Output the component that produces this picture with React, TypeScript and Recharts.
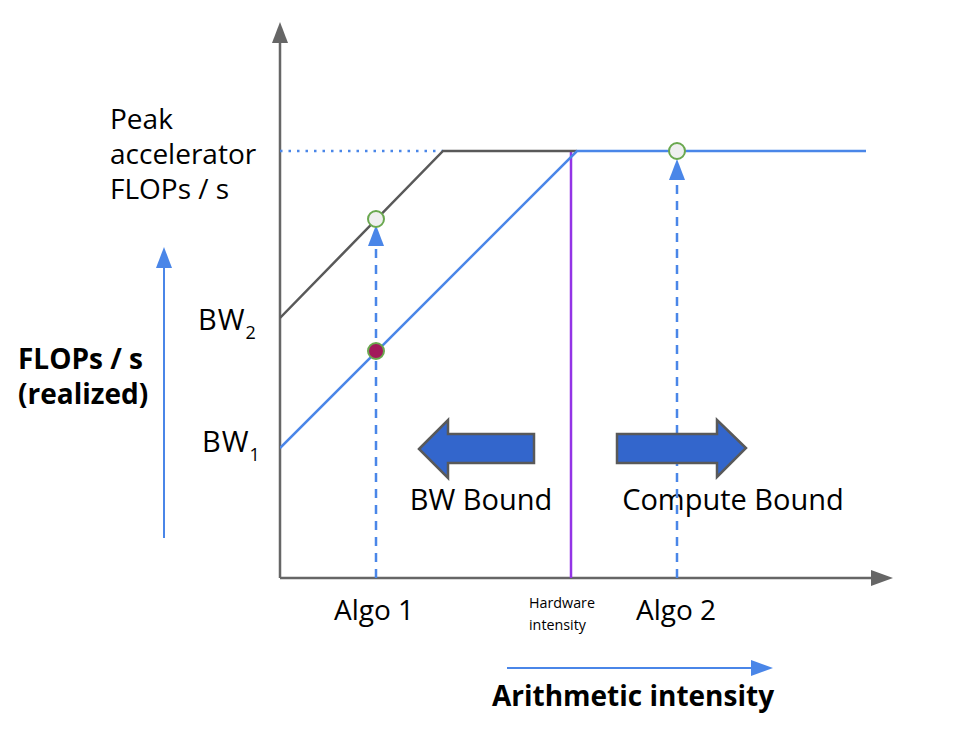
import React from 'react';
import { ComposedChart, Line, XAxis, YAxis, ReferenceLine, ReferenceDot, Customized } from 'recharts';

// Data coordinates: x = arithmetic intensity (arbitrary units), y = FLOPs/s (arbitrary units)
const bw1Roof = [
  { x: 0, y: 130 },
  { x: 297, y: 427 },
  { x: 586, y: 427 },
];
const bw2Roof = [
  { x: 0, y: 260 },
  { x: 163, y: 427 },
  { x: 297, y: 427 },
];
const peakY = 427;
const hardwareIntensityX = 291;
const algoXs = [96, 397];
const algoLabels = ['Algo 1', 'Algo 2'];
const algoPoints = [
  { x: 96, y: 359, kind: 'open' },
  { x: 96, y: 227, kind: 'filled' },
  { x: 397, y: 427, kind: 'open' },
];
const algoArrowTips = [353, 419];
const xMax = 613;
const yMax = 556;
const regionArrows = [
  { x: 196, y: 129, dir: 'left', label: 'BW Bound' },
  { x: 401, y: 130, dir: 'right', label: 'Compute Bound' },
];

const BLUE = '#4a86e8';
const GRAY = '#595959';
const AXIS = '#666666';
const PURPLE = '#9334e6';
const FONT = '"Open Sans", Roboto, sans-serif';

const UpTriangle = (props: any) => {
  const { cx, cy, fill, w = 8, h = 21 } = props;
  return <polygon points={`${cx},${cy} ${cx - w},${cy + h} ${cx + w},${cy + h}`} fill={fill} />;
};

const RightTriangle = (props: any) => {
  const { cx, cy, fill } = props;
  return <polygon points={`${cx},${cy} ${cx - 22},${cy - 8} ${cx - 22},${cy + 8}`} fill={fill} />;
};

const BigArrow = (props: any) => {
  const { cx, cy, dir } = props;
  const pts =
    dir === 'left'
      ? [[-57, 0], [-28, -29], [-28, -15], [58, -15], [58, 14], [-28, 14], [-28, 29]]
      : [[-64, -14], [36, -14], [36, -28], [65, 0], [36, 29], [36, 15], [-64, 15]];
  return (
    <polygon
      points={pts.map(([dx, dy]) => `${cx + dx},${cy + dy}`).join(' ')}
      fill="#3366cc"
      stroke={GRAY}
      strokeWidth={2.5}
      strokeLinejoin="miter"
    />
  );
};

const Overlay = () => (
  <g fontFamily={FONT} fill="#000">
    <text x={110} y={129} fontSize={28}>Peak</text>
    <text x={110} y={164} fontSize={28}>accelerator</text>
    <text x={110} y={199} fontSize={28}>FLOPs / s</text>
    <text x={198} y={330} fontSize={29} letterSpacing={1}>BW<tspan dy={9} dx={0} fontSize={18} letterSpacing={0}>2</tspan></text>
    <text x={202} y={452} fontSize={29} letterSpacing={1}>BW<tspan dy={9} dx={0} fontSize={18} letterSpacing={0}>1</tspan></text>
    <text x={18} y={369} fontSize={28} fontWeight="bold">FLOPs / s</text>
    <text x={18} y={404} fontSize={28} fontWeight="bold">(realized)</text>
    <line x1={164} y1={538} x2={164} y2={266} stroke={BLUE} strokeWidth={2} />
    <polygon points="164,247 156,268 172,268" fill={BLUE} />
    <text x={481} y={510} fontSize={29} textAnchor="middle">BW Bound</text>
    <text x={733} y={510} fontSize={29} textAnchor="middle">Compute Bound</text>
    <text x={374} y={620} fontSize={28} textAnchor="middle">{algoLabels[0]}</text>
    <text x={676} y={620} fontSize={28} textAnchor="middle">{algoLabels[1]}</text>
    <text x={529} y={608} fontSize={14.3}>Hardware</text>
    <text x={529} y={630} fontSize={14.3}>intensity</text>
    <line x1={507} y1={668} x2={755} y2={668} stroke={BLUE} strokeWidth={2} />
    <polygon points="773,668 751,660 751,676" fill={BLUE} />
    <text x={633} y={706} fontSize={28} fontWeight="bold" textAnchor="middle">Arithmetic intensity</text>
  </g>
);

export default function App() {
  return (
    <div style={{ margin: -8, width: 964, height: 736, background: '#fff' }}>
      <ComposedChart
        width={964}
        height={736}
        margin={{ top: 22, right: 71, bottom: 158, left: 280 }}
      >
        <XAxis type="number" dataKey="x" domain={[0, xMax]} hide allowDataOverflow />
        <YAxis type="number" dataKey="y" domain={[0, yMax]} hide allowDataOverflow />

        {/* axes */}
        <ReferenceLine segment={[{ x: 0, y: 0 }, { x: xMax - 22, y: 0 }]} stroke={AXIS} strokeWidth={2.5} />
        <ReferenceLine segment={[{ x: 0, y: 0 }, { x: 0, y: yMax - 21 }]} stroke={AXIS} strokeWidth={2.5} />
        <ReferenceDot x={xMax} y={0} r={1} ifOverflow="visible" shape={(p: any) => <RightTriangle {...p} fill={AXIS} />} />
        <ReferenceDot x={0} y={yMax} r={1} ifOverflow="visible" shape={(p: any) => <UpTriangle {...p} fill={AXIS} w={8} h={21} />} />

        {/* peak dotted line */}
        <ReferenceLine segment={[{ x: 0, y: peakY }, { x: 163, y: peakY }]} stroke={BLUE} strokeWidth={2.5} strokeDasharray="2.5 6" />

        {/* hardware intensity */}
        <ReferenceLine segment={[{ x: hardwareIntensityX, y: 0 }, { x: hardwareIntensityX, y: peakY }]} stroke={PURPLE} strokeWidth={2.5} />

        {/* algo dashed arrows */}
        {algoXs.map((ax, i) => (
          <ReferenceLine
            key={'al' + i}
            segment={[{ x: ax, y: 0 }, { x: ax, y: algoArrowTips[i] - 20 }]}
            stroke={BLUE}
            strokeWidth={2.5}
            strokeDasharray="9 7"
          />
        ))}
        {algoXs.map((ax, i) => (
          <ReferenceDot
            key={'at' + i}
            x={ax}
            y={algoArrowTips[i]}
            r={1}
            shape={(p: any) => <UpTriangle {...p} fill={BLUE} w={8} h={21} />}
          />
        ))}

        <Line data={bw2Roof} dataKey="y" type="linear" stroke={GRAY} strokeWidth={2.5} dot={false} isAnimationActive={false} />
        <Line data={bw1Roof} dataKey="y" type="linear" stroke={BLUE} strokeWidth={2.5} dot={false} isAnimationActive={false} />

        {algoPoints.map((pt, i) => (
          <ReferenceDot
            key={'pt' + i}
            x={pt.x}
            y={pt.y}
            r={8}
            fill={pt.kind === 'filled' ? '#a2195b' : '#efefef'}
            stroke="#6aa84f"
            strokeWidth={2}
          />
        ))}

        {regionArrows.map((a, i) => (
          <ReferenceDot key={'ra' + i} x={a.x} y={a.y} r={1} shape={(p: any) => <BigArrow {...p} dir={a.dir} />} />
        ))}

        <Customized component={Overlay} />
      </ComposedChart>
    </div>
  );
}
